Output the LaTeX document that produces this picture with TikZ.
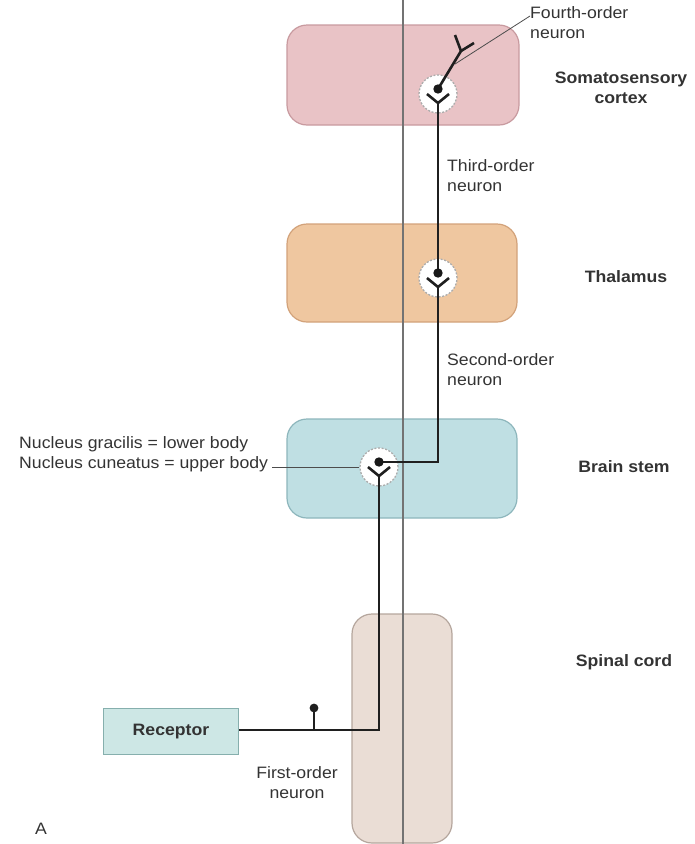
\documentclass[tikz,border=0pt]{standalone}
\usepackage{fontspec}
\setmainfont{Liberation Sans}[FakeStretch=1.07]
\usetikzlibrary{calc}
\definecolor{ctxfill}{HTML}{E9C3C6}\definecolor{ctxdraw}{HTML}{C89A9F}
\definecolor{thalfill}{HTML}{EFC7A0}\definecolor{thaldraw}{HTML}{D2A27A}
\definecolor{bsfill}{HTML}{BFDFE3}\definecolor{bsdraw}{HTML}{8DB6BC}
\definecolor{scfill}{HTML}{EADDD5}\definecolor{scdraw}{HTML}{B5A69D}
\definecolor{recfill}{HTML}{CDE7E5}\definecolor{recdraw}{HTML}{86AFAD}
\definecolor{txt}{HTML}{333333}
\begin{document}
\begin{tikzpicture}[x=1pt,y=-1pt,
  region/.style={draw, rounded corners=20pt, line width=1.2pt, inner sep=0pt},
  synapse/.style={circle, minimum size=38pt, inner sep=0pt, fill=white, draw=gray!65, dash pattern=on 2pt off 1.6pt, line width=1.3pt},
  axon/.style={line width=2.6pt, draw=black!88},
  leader/.style={line width=0.8pt, draw=black!70},
  midline/.style={line width=1.4pt, draw=black!55},
  lbl/.style={text=txt, font=\fontsize{16.5}{20}\selectfont, inner sep=0pt},
  blbl/.style={text=txt, font=\fontsize{16.5}{20}\selectfont\bfseries, inner sep=0pt, align=center},
]
\useasboundingbox (0,0) rectangle (695,844);
% regions
\node[region, fill=ctxfill, draw=ctxdraw, minimum width=232pt, minimum height=100pt] (cortex) at (403,75) {};
\node[region, fill=thalfill, draw=thaldraw, minimum width=230pt, minimum height=98pt] (thal) at (402,273) {};
\node[region, fill=bsfill, draw=bsdraw, minimum width=230pt, minimum height=99pt] (bs) at (402,468.5) {};
\node[region, fill=scfill, draw=scdraw, minimum width=100pt, minimum height=229pt] (sc) at (402,728.5) {};
\node[region, rounded corners=0pt, fill=recfill, draw=recdraw, minimum width=135pt, minimum height=46pt, font=\fontsize{16.5}{20}\selectfont\bfseries, text=txt] (rec) at (171,731.5) {Receptor};
% midline
\coordinate (mtop) at (403,0);
\coordinate (mbot) at (403,844);
\draw[midline] (mtop) -- (mbot);
% synapses
\node[synapse] (s1) at (438,94) {};
\node[synapse] (s2) at (438,278) {};
\node[synapse] (s3) at (379,467) {};
\coordinate (d1) at (438,89);
\coordinate (d2) at (438,273);
\coordinate (d3) at (379,462);
\coordinate (v1) at (438,103);
\coordinate (v2) at (438,287);
\coordinate (v3) at (379,476);
% dendrite V shapes
\foreach \v in {v1,v2,v3}{
  \draw[axon, line join=miter] ($(\v)+(-11,-9)$) -- (\v) -- ($(\v)+(11,-9)$);
}
% first-order neuron
\coordinate (bend1) at (379,730);
\coordinate (br) at (314,730);
\coordinate (brtop) at (314,708);
\draw[axon] (rec.east |- bend1) -- (bend1) -- (v3);
\draw[axon] (br) -- (brtop);
\fill[black!88] (brtop) circle (4.4pt);
% second-order neuron
\coordinate (bend2) at (438,462);
\draw[axon] (d3) -- (bend2) -- (v2);
% third-order neuron
\draw[axon] (d2) -- (v1);
% fourth-order neuron
\coordinate (b4) at (461,51);
\coordinate (t4a) at (455,35);
\coordinate (t4b) at (474,43);
\draw[axon] (d1) -- (b4) -- (t4a);
\draw[axon] (b4) -- (t4b);
% dots
\foreach \d in {d1,d2,d3}{ \fill[black!90] (\d) circle (4.7pt); }
% labels
\node[lbl, anchor=west, align=left] (l4) at (530,23) {Fourth-order\\neuron};
\coordinate (l4end) at (455,64);
\draw[leader] (l4.west |- 0,16) -- (l4end);
\node[blbl] (lctx) at (621,88) {Somatosensory\\cortex};
\node[lbl, anchor=west, align=left] (l3) at (447,176) {Third-order\\neuron};
\node[blbl] (lthal) at (626,277) {Thalamus};
\node[lbl, anchor=west, align=left] (l2) at (447,370) {Second-order\\neuron};
\node[lbl, anchor=west, align=left] (lnuc) at (19,454) {Nucleus gracilis = lower body\\Nucleus cuneatus = upper body};
\draw[leader] (lnuc.east |- s3.west) ++(4,0) -- (s3.west);
\node[blbl] (lbs) at (624,467) {Brain stem};
\node[blbl] (lsc) at (624,662) {Spinal cord};
\node[lbl, align=center] (l1) at (297,783) {First-order\\neuron};
\node[lbl] (la) at (41,829) {A};
\end{tikzpicture}
\end{document}
